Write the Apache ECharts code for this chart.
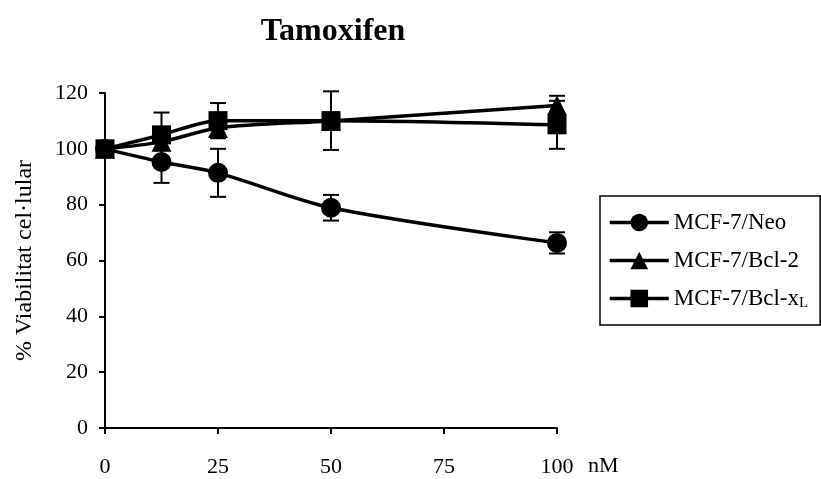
<!DOCTYPE html>
<html>
<head>
<meta charset="utf-8">
<script src="https://cdn.jsdelivr.net/npm/echarts@6/dist/echarts.min.js"></script>
<style>
html, body { margin: 0; padding: 0; background: #fff; }
#chart { width: 821px; height: 479px; }
</style>
</head>
<body>
<div id="chart"></div>
<script>
var doses = [0, 12.5, 25, 50, 100];// nM
var xTicks = [0, 25, 50, 75, 100];
var yTicks = [0, 20, 40, 60, 80, 100, 120];

var neo = [100, 95.3, 91.4, 78.9, 66.3];
var neoErr = [0, 7.5, 8.6, 4.6, 3.8];
var bcl2 = [100, 102.5, 107.5, 110, 115.5];
var bcl2Err = [0, 3, 3, 3, 3.5];
var bclxl = [100, 105, 110.1, 110.1, 108.6];
var bclxlErr = [0, 8, 6.3, 10.5, 8.6];

var names = ['MCF-7/Neo', 'MCF-7/Bcl-2', 'MCF-7/Bcl-x{sub|L}'];
var serif = 'Liberation Serif';

function pts(vals) {
	var out = [];
	for (var i = 0; i < doses.length; i++) {
		out.push([doses[i], vals[i]]);
	}
	return out;
}

function errData(vals, errs) {
	var out = [];
	for (var i = 0; i < doses.length; i++) {
		if (errs[i] > 0) out.push([doses[i], vals[i] - errs[i], vals[i] + errs[i]]);
	}
	return out;
}

// barras de error
function errSeries(vals, errs) {
	return {
		type: 'custom',
		z: 1,
		silent: true,
		data: errData(vals, errs),
		renderItem: function(params, api) {
			var lo = api.coord([api.value(0), api.value(1)]);
			var hi = api.coord([api.value(0), api.value(2)]);
			var w = 8;
			var st = { stroke: '#000', lineWidth: 2 };
			return {
				type: 'group',
				children: [
					{ type: 'line', shape: { x1: lo[0], y1: lo[1], x2: hi[0], y2: hi[1] }, style: st },
					{ type: 'line', shape: { x1: lo[0] - w, y1: lo[1], x2: lo[0] + w, y2: lo[1] }, style: st },
					{ type: 'line', shape: { x1: hi[0] - w, y1: hi[1], x2: hi[0] + w, y2: hi[1] }, style: st }
				]
			};
		}
	};
}

function lineSeries(name, vals, symbol, size) {
	return {
		name: name,
		type: 'line',
		z: 3,
		smooth: 0.3,
		data: pts(vals),
		symbol: symbol,
		symbolSize: size,
		itemStyle: { color: '#000' },
		lineStyle: { color: '#000', width: 3.5 }
	};
}

var option = {
	animation: false,
	backgroundColor: '#fff',
	title: {
		text: 'Tamoxifen',
		left: 328,
		top: 11,
		textAlign: 'center',
		textStyle: { fontFamily: serif, fontSize: 32, fontWeight: 'bold', color: '#000' }
	},
	grid: { left: 105, right: 264, top: 93, bottom: 51 },
	legend: {
		orient: 'vertical',
		left: 600,
		top: 196,
		padding: [15, 12, 14, 8],
		itemGap: 15,
		itemWidth: 59,
		itemHeight: 22,
		borderColor: '#000',
		borderWidth: 1.5,
		data: names,
		lineStyle: { width: 3.5, color: '#000' },
		formatter: function(n) { return n; },
		textStyle: {
			fontFamily: serif, fontSize: 23, color: '#000',
			rich: { sub: { fontFamily: serif, fontSize: 15, verticalAlign: 'bottom', padding: [10, 0, 0, 0], color: '#000' } }
		}
	},
	xAxis: {
		type: 'value',
		min: 0,
		max: 100,
		interval: 25,
		axisLine: { lineStyle: { color: '#000', width: 2 } },
		axisTick: { show: true, length: 6, lineStyle: { color: '#000', width: 2 } },
		axisLabel: {
			margin: 28,
			fontFamily: serif, fontSize: 22, color: '#000',
			formatter: function(v) { return xTicks.indexOf(v) >= 0 ? String(v) : ''; }
		},
		splitLine: { show: false }
	},
	yAxis: {
		type: 'value',
		min: 0,
		max: 120,
		interval: 20,
		name: '% Viabilitat cel·lular',
		nameLocation: 'middle',
		nameGap: 68,
		nameTextStyle: { fontFamily: serif, fontSize: 24, color: '#000' },
		axisLine: { show: true, lineStyle: { color: '#000', width: 2 } },
		axisTick: { show: true, length: 6, lineStyle: { color: '#000', width: 2 } },
		axisLabel: {
			margin: 17,
			fontFamily: serif, fontSize: 22, color: '#000',
			formatter: function(v) { return yTicks.indexOf(v) >= 0 ? String(v) : ''; }
		},
		splitLine: { show: false }
	},
	graphic: [{
		type: 'text',
		left: 588,
		top: 455,
		style: { text: 'nM', font: '22px "Liberation Serif"', fill: '#000' }
	}],
	series: [
		errSeries(neo, neoErr),
		errSeries(bcl2, bcl2Err),
		errSeries(bclxl, bclxlErr),
		lineSeries(names[0], neo, 'circle', 20),
		lineSeries(names[1], bcl2, 'triangle', 20),
		lineSeries(names[2], bclxl, 'rect', 19)
	]
};

var myChart = echarts.init(document.getElementById('chart'));
myChart.setOption(option);
</script>
</body>
</html>
